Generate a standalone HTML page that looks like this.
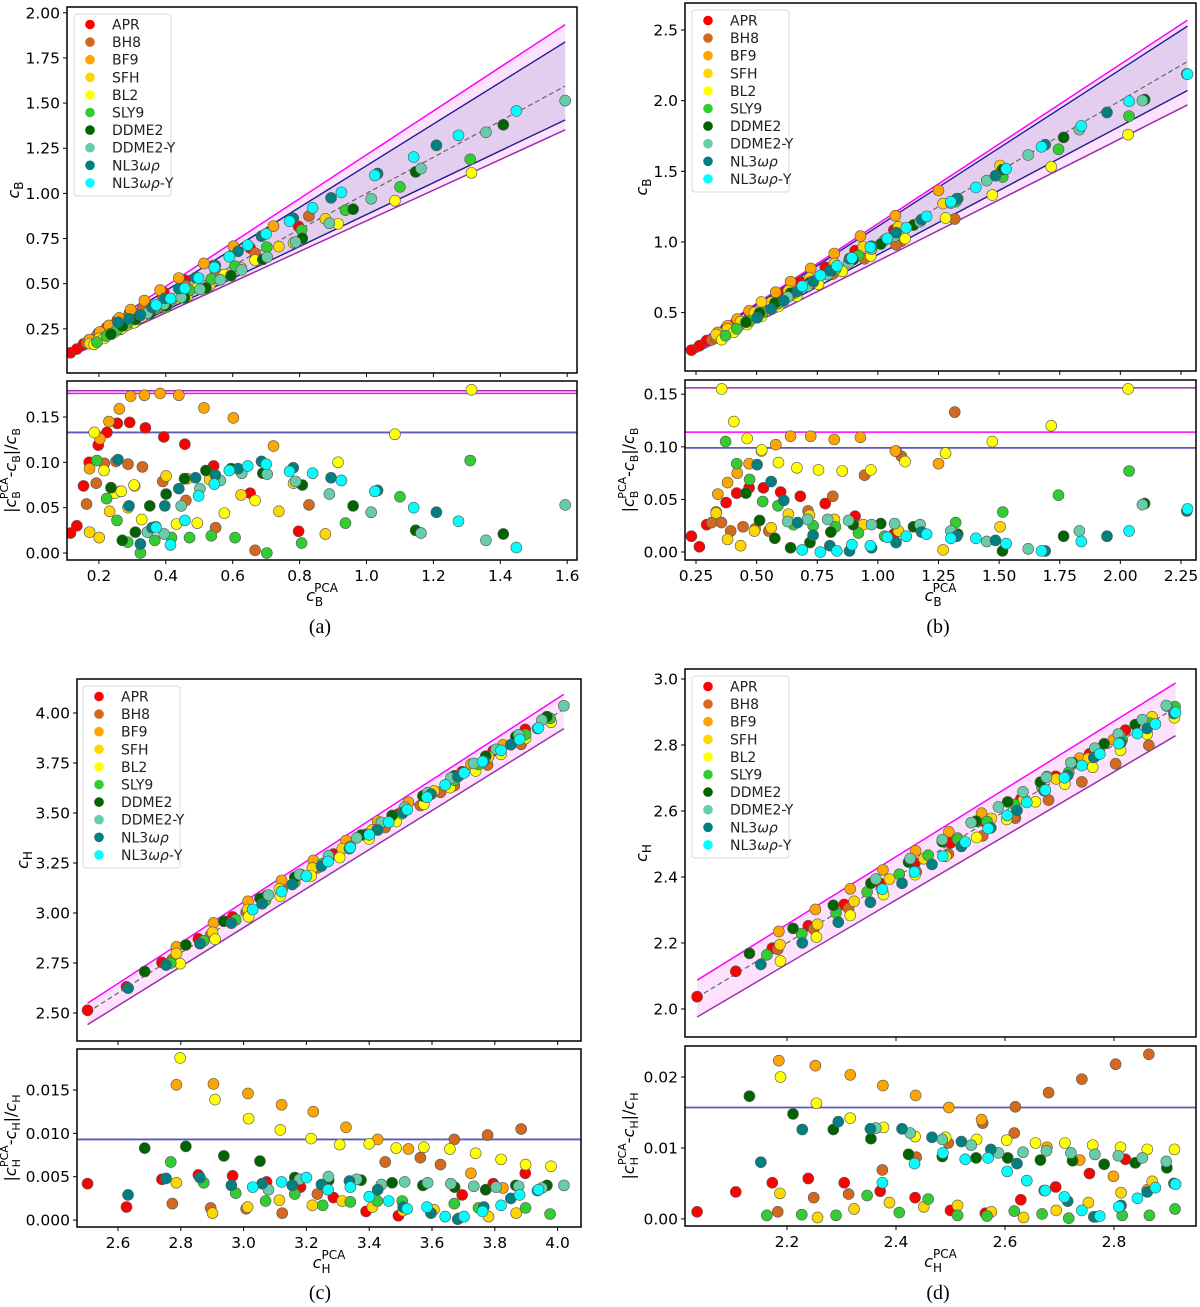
<!DOCTYPE html>
<html><head><meta charset="utf-8"><title>cB and cH PCA comparison</title>
<style>
html,body{margin:0;padding:0;background:#fff;}
svg{display:block;font-family:"DejaVu Sans","Liberation Sans",sans-serif;}
</style></head>
<body>
<svg id="fig" width="1200" height="1307" viewBox="0 0 1200 1307" xmlns="http://www.w3.org/2000/svg"></svg>
<script>
const seriesNames = ['APR','BH8','BF9','SFH','BL2','SLY9','DDME2','DDME2-Y','NL3ωρ','NL3ωρ-Y'];
const seriesColors = ['#ff0000','#d2691e','#ffa500','#ffd700','#ffff00','#32cd32','#006400','#66cdaa','#008080','#00ffff'];

// Panel (a): c_B^PCA values and relative errors
const aX = [
 [0.115,0.134,0.154,0.171,0.198,0.224,0.255,0.292,0.339,0.394,0.457,0.543,0.652,0.797],
 [0.163,0.192,0.216,0.251,0.287,0.33,0.391,0.46,0.549,0.667,0.828],
 [0.172,0.203,0.23,0.261,0.295,0.336,0.383,0.439,0.514,0.602,0.722],
 [0.172,0.201,0.232,0.264,0.287,0.307,0.37,0.401,0.464,0.531,0.625,0.738,0.877,0.782],
 [0.186,0.215,0.247,0.267,0.305,0.328,0.432,0.494,0.575,0.667,0.915,1.085,1.314],
 [0.194,0.223,0.254,0.286,0.324,0.367,0.417,0.471,0.536,0.607,0.702,0.806,0.937,1.1,1.31],
 [0.236,0.27,0.309,0.352,0.401,0.456,0.52,0.595,0.69,0.808,0.96,1.147,1.409],
 [0.345,0.395,0.446,0.502,0.563,0.627,0.703,0.788,0.889,1.014,1.163,1.357,1.594],
 [0.257,0.29,0.324,0.359,0.397,0.439,0.489,0.548,0.616,0.686,0.781,0.894,1.033,1.209],
 [0.371,0.414,0.457,0.498,0.545,0.59,0.645,0.7,0.77,0.839,0.925,1.025,1.141,1.275,1.448]
];
const aErr = [
 [0.022,0.030,0.074,0.10,0.119,0.133,0.143,0.144,0.138,0.128,0.12,0.096,0.066,0.024],
 [0.054,0.077,0.099,0.101,0.098,0.095,0.079,0.058,0.028,0.003,0.053],
 [0.093,0.126,0.145,0.159,0.173,0.174,0.176,0.174,0.16,0.149,0.118],
 [0.023,0.017,0.046,0.068,0.05,0.074,0.029,0.085,0.082,0.081,0.064,0.046,0.021,0.077],
 [0.133,0.091,0.066,0.068,0.075,0.037,0.032,0.033,0.044,0.058,0.10,0.131,0.18],
 [0.102,0.06,0.036,0.012,0.0,0.014,0.017,0.017,0.019,0.017,0.0,0.011,0.033,0.062,0.102],
 [0.072,0.014,0.023,0.052,0.065,0.082,0.091,0.093,0.088,0.075,0.052,0.025,0.021],
 [0.023,0.021,0.052,0.071,0.08,0.088,0.087,0.079,0.065,0.045,0.022,0.014,0.053],
 [0.103,0.052,0.01,0.028,0.052,0.071,0.083,0.086,0.093,0.101,0.094,0.083,0.069,0.045],
 [0.028,0.009,0.036,0.063,0.076,0.091,0.096,0.098,0.09,0.088,0.08,0.068,0.05,0.035,0.006]
];
const aSign = [-1,-1,-1,1,1,1,1,1,-1,-1];
const aLimits = [0.176,0.179,0.133]; // magenta, purple, blue

// Panel (b)
const bX = [
 [0.231,0.264,0.294,0.374,0.418,0.469,0.528,0.599,0.68,0.783,0.906,1.066],
 [0.315,0.355,0.333,0.393,0.444,0.494,0.55,0.712,0.814,0.945,1.097,1.317,1.075],
 [0.34,0.38,0.42,0.469,0.579,0.64,0.723,0.82,0.928,1.072,1.25],
 [0.333,0.38,0.434,0.491,0.56,0.631,0.718,0.821,0.94,1.085,1.269,1.504,0.52],
 [0.356,0.406,0.461,0.521,0.59,0.666,0.755,0.853,0.971,1.112,1.279,1.472,1.715,2.032],
 [0.372,0.418,0.471,0.525,0.588,0.652,0.733,0.825,0.92,1.028,1.321,1.515,1.745,2.036],
 [0.456,0.512,0.575,0.64,0.72,0.806,0.898,1.012,1.147,1.329,1.514,1.766,2.1],
 [0.628,0.71,0.793,0.879,0.974,1.069,1.174,1.301,1.449,1.62,1.831,2.091],
 [0.502,0.56,0.612,0.669,0.733,0.802,0.883,0.974,1.075,1.18,1.325,1.485,1.69,1.945,2.274],
 [0.688,0.763,0.831,0.893,0.969,1.039,1.117,1.201,1.301,1.404,1.529,1.675,1.839,2.036,2.277]
];
const bErr = [
 [0.015,0.005,0.026,0.047,0.056,0.061,0.061,0.057,0.053,0.046,0.034,0.017],
 [0.028,0.028,0.038,0.02,0.024,0.022,0.02,0.039,0.053,0.073,0.091,0.133,0.096],
 [0.055,0.066,0.075,0.084,0.102,0.11,0.11,0.107,0.109,0.096,0.084],
 [0.037,0.012,0.006,0.02,0.023,0.036,0.035,0.031,0.026,0.02,0.002,0.024,0.096],
 [0.155,0.124,0.108,0.097,0.085,0.08,0.078,0.077,0.078,0.086,0.094,0.105,0.12,0.155],
 [0.105,0.084,0.069,0.048,0.044,0.026,0.025,0.024,0.018,0.015,0.028,0.038,0.054,0.077],
 [0.056,0.03,0.013,0.004,0.009,0.019,0.026,0.027,0.024,0.017,0.001,0.015,0.046],
 [0.029,0.031,0.031,0.03,0.026,0.027,0.026,0.02,0.01,0.003,0.02,0.045],
 [0.083,0.067,0.049,0.028,0.016,0.006,0.001,0.004,0.009,0.019,0.015,0.011,0.001,0.015,0.039],
 [0.002,0.0,0.001,0.007,0.006,0.014,0.015,0.017,0.013,0.013,0.008,0.001,0.01,0.02,0.041]
];
const bSign = [-1,1,-1,-1,1,1,1,1,1,1];
const bLimits = [0.114,0.156,0.099];

// Panel (c): c_H
const cX = [
 [2.503,2.627,2.74,2.856,2.965,3.073,3.181,3.286,3.39,3.493,3.596,3.696,3.795,3.897],
 [2.773,2.895,3.008,3.123,3.235,3.451,3.563,3.671,3.777,3.884,3.627],
 [2.786,2.904,3.014,3.121,3.222,3.326,3.427,3.525,3.724,3.826],
 [2.786,2.901,3.013,3.114,3.219,3.314,3.41,3.508,3.606,3.686,3.78,3.868],
 [2.798,2.909,3.016,3.117,3.215,3.306,3.4,3.486,3.574,3.657,3.739,3.82,3.898,3.979],
 [2.768,2.873,2.975,3.07,3.163,3.252,3.34,3.426,3.505,3.671,3.748,3.898,3.976],
 [2.685,2.816,2.937,3.052,3.163,3.271,3.374,3.473,3.571,3.672,3.771,3.867,3.966],
 [3.079,3.178,3.27,3.36,3.439,3.513,3.586,3.66,3.733,3.804,3.876,3.95,4.02],
 [2.632,2.753,2.861,2.961,3.059,3.155,3.248,3.337,3.427,3.508,3.597,3.682,3.765,3.851,3.936],
 [3.029,3.121,3.2,3.269,3.34,3.4,3.462,3.521,3.584,3.642,3.702,3.761,3.82,3.879,3.939]
];
const cErr = [
 [0.0042,0.0015,0.0047,0.0052,0.0051,0.0044,0.0038,0.0026,0.001,0.0005,0.0009,0.0029,0.0042,0.0054],
 [0.0019,0.0014,0.0013,0.0008,0.003,0.0067,0.0072,0.0093,0.0098,0.0105,0.0064],
 [0.0156,0.0157,0.0146,0.0133,0.0125,0.0107,0.0093,0.0082,0.0054,0.0037],
 [0.0043,0.0008,0.0015,0.0023,0.0017,0.0022,0.0015,0.0011,0.0012,0.0002,0.0004,0.0008],
 [0.0187,0.0139,0.0117,0.0104,0.0094,0.0087,0.0088,0.0083,0.0084,0.0082,0.0077,0.007,0.0064,0.0062],
 [0.0067,0.0043,0.0031,0.0022,0.003,0.0017,0.0021,0.0022,0.0022,0.0019,0.0014,0.0014,0.0007],
 [0.0083,0.0085,0.0074,0.0068,0.0049,0.0046,0.0046,0.0043,0.004,0.0038,0.0035,0.004,0.004],
 [0.0035,0.0047,0.005,0.0047,0.0041,0.0044,0.0043,0.0042,0.0039,0.0038,0.0039,0.0037,0.004],
 [0.0029,0.0048,0.0049,0.004,0.0042,0.004,0.0041,0.0045,0.0035,0.0015,0.0008,0.0001,0.0015,0.0025,0.0034],
 [0.0038,0.0044,0.0049,0.0035,0.0038,0.0027,0.0022,0.0013,0.0015,0.0004,0.0004,0.001,0.0017,0.0029,0.0035]
];
const cSign = [-1,1,-1,-1,1,1,-1,-1,1,1];
const cLimits = [0.018,0.025,0.0093];

// Panel (d)
const dX = [
 [2.035,2.106,2.173,2.239,2.305,2.371,2.435,2.5,2.564,2.629,2.693,2.755,2.821],
 [2.183,2.249,2.313,2.375,2.437,2.496,2.559,2.619,2.68,2.741,2.803,2.864,2.617],
 [2.185,2.252,2.316,2.376,2.436,2.497,2.557,2.677,2.737,2.799,2.861],
 [2.187,2.256,2.323,2.388,2.451,2.513,2.575,2.634,2.694,2.753,2.813,2.87],
 [2.188,2.254,2.316,2.377,2.435,2.491,2.548,2.603,2.656,2.71,2.761,2.812,2.861,2.911],
 [2.163,2.227,2.29,2.347,2.406,2.459,2.513,2.567,2.617,2.668,2.717,2.767,2.815,2.865,2.912],
 [2.131,2.211,2.285,2.354,2.423,2.485,2.547,2.605,2.665,2.724,2.782,2.839,2.897],
 [2.363,2.426,2.485,2.538,2.588,2.633,2.676,2.721,2.765,2.808,2.852,2.896],
 [2.152,2.228,2.294,2.353,2.411,2.466,2.52,2.574,2.622,2.672,2.715,2.763,2.813,2.861,2.91],
 [2.375,2.434,2.486,2.527,2.569,2.604,2.64,2.674,2.709,2.741,2.774,2.809,2.843,2.876,2.913]
];
const dErr = [
 [0.001,0.0038,0.0051,0.0057,0.0051,0.0039,0.003,0.0012,0.0008,0.0027,0.0045,0.0064,0.0084],
 [0.001,0.003,0.0035,0.0069,0.0087,0.0107,0.0135,0.0158,0.0178,0.0197,0.0218,0.0232,0.0121],
 [0.0223,0.0216,0.0203,0.0188,0.0174,0.0157,0.014,0.0101,0.0083,0.006,0.0041],
 [0.0036,0.0002,0.0014,0.0023,0.0017,0.0019,0.001,0.0002,0.0012,0.0023,0.0037,0.0053],
 [0.02,0.0163,0.0142,0.0129,0.0116,0.0115,0.0112,0.0111,0.0107,0.0107,0.0104,0.0101,0.0098,0.0098],
 [0.0005,0.0006,0.0005,0.0033,0.0009,0.0028,0.0005,0.0004,0.0011,0.0007,0.0001,0.0003,0.0005,0.0005,0.0014],
 [0.0173,0.0148,0.0126,0.0113,0.0091,0.0088,0.0086,0.0086,0.0083,0.0082,0.0077,0.0079,0.0072],
 [0.0128,0.0121,0.0112,0.0104,0.0093,0.0094,0.0096,0.0093,0.0091,0.0089,0.0086,0.0081],
 [0.008,0.0126,0.0137,0.0127,0.0127,0.0115,0.0109,0.0098,0.0078,0.004,0.0025,0.0003,0.0019,0.0038,0.005],
 [0.0051,0.0078,0.0093,0.0084,0.0086,0.0067,0.0054,0.004,0.0031,0.0012,0.0004,0.0017,0.0029,0.0044,0.0049]
];
const dSign = [-1,1,-1,-1,1,-1,-1,-1,1,1];
const dLimits = [0.025,0.03,0.0157];

// Tick labels
const aTopYTicks = ['0.25','0.50','0.75','1.00','1.25','1.50','1.75','2.00'];
const aXTicks = ['0.2','0.4','0.6','0.8','1.0','1.2','1.4','1.6'];
const aBotYTicks = ['0.00','0.05','0.10','0.15'];
const bTopYTicks = ['0.5','1.0','1.5','2.0','2.5'];
const bXTicks = ['0.25','0.50','0.75','1.00','1.25','1.50','1.75','2.00','2.25'];
const bBotYTicks = ['0.00','0.05','0.10','0.15'];
const cTopYTicks = ['2.50','2.75','3.00','3.25','3.50','3.75','4.00'];
const cXTicks = ['2.6','2.8','3.0','3.2','3.4','3.6','3.8','4.0'];
const cBotYTicks = ['0.000','0.005','0.010','0.015'];
const dTopYTicks = ['2.0','2.2','2.4','2.6','2.8','3.0'];
const dXTicks = ['2.2','2.4','2.6','2.8'];
const dBotYTicks = ['0.00','0.01','0.02'];

const NS = 'http://www.w3.org/2000/svg';
const svg = document.getElementById('fig');
function mk(tag, attrs, parent){
  const e = document.createElementNS(NS, tag);
  for (const k in attrs) e.setAttribute(k, attrs[k]);
  (parent || svg).appendChild(e);
  return e;
}
function scale(d0,d1,p0,p1){ return v => p0 + (v-d0)/(d1-d0)*(p1-p0); }
const TICKFS = 15.5;

function drawPanel(key, cfg){
  const g = mk('g', {});
  
  
  const xs = scale(cfg.xlim[0], cfg.xlim[1], cfg.L, cfg.R);
  const yT = scale(cfg.ylimT[0], cfg.ylimT[1], cfg.tB, cfg.tT);
  const yB = scale(cfg.ylimB[0], cfg.ylimB[1], cfg.bB, cfg.bT);
  const cidT = 'clipT'+key, cidB = 'clipB'+key;
  const defs = mk('defs', {}, g);
  const c1 = mk('clipPath', {id:cidT}, defs); mk('rect', {x:cfg.L, y:cfg.tT, width:cfg.R-cfg.L, height:cfg.tB-cfg.tT}, c1);
  const c2 = mk('clipPath', {id:cidB}, defs); mk('rect', {x:cfg.L, y:cfg.bT, width:cfg.R-cfg.L, height:cfg.bB-cfg.bT}, c2);

  const top = mk('g', {'clip-path':'url(#'+cidT+')'}, g);
  
  
  let xmin = Infinity, xmax = -Infinity;
  cfg.X.forEach(a => a.forEach(v => { xmin = Math.min(xmin, v); xmax = Math.max(xmax, v); }));
  const [dm, dp, db] = cfg.lim;
  const up = x => x/(1-dm), lo = x => x/(1+dp);
  const band = mk('polygon', {points:xs(xmin)+','+yT(up(xmin))+' '+xs(xmax)+','+yT(up(xmax))+' '+xs(xmax)+','+yT(lo(xmax))+' '+xs(xmin)+','+yT(lo(xmin)), fill:'#fde2fd', stroke:'none'}, top);
  
  
  if (cfg.blueTop){
    const bu = x => x/(1-db), bl = x => x/(1+db);
    const inner = mk('polygon', {points:xs(xmin)+','+yT(bu(xmin))+' '+xs(xmax)+','+yT(bu(xmax))+' '+xs(xmax)+','+yT(bl(xmax))+' '+xs(xmin)+','+yT(bl(xmin)), fill:'#e4cef0', stroke:'none'}, top);
    
    
  }
  const l1 = mk('line', {x1:xs(xmin), y1:yT(up(xmin)), x2:xs(xmax), y2:yT(up(xmax)), stroke:'#ff00ff', 'stroke-width':1.5}, top);
  
  
  const l2 = mk('line', {x1:xs(xmin), y1:yT(lo(xmin)), x2:xs(xmax), y2:yT(lo(xmax)), stroke:'#9b30a8', 'stroke-width':1.5}, top);
  
  
  if (cfg.blueTop){
    [x => x/(1-db), x => x/(1+db)].forEach((f,i) => {
      const bl = mk('line', {x1:xs(xmin), y1:yT(f(xmin)), x2:xs(xmax), y2:yT(f(xmax)), stroke:'#1f1f8f', 'stroke-width':1.4}, top);
      
      
    });
  }
  const diag = mk('line', {x1:xs(xmin), y1:yT(xmin), x2:xs(xmax), y2:yT(xmax), stroke:'#666', 'stroke-width':1.2, 'stroke-dasharray':'5,3'}, top);
  
  

  cfg.X.forEach((arr, s) => {
    arr.forEach((x, i) => {
      const e = cfg.E[s][i] * cfg.S[s];
      const y = x/(1+e);
      const c = mk('circle', {cx:xs(x), cy:yT(y), r:5.5, fill:seriesColors[s], stroke:'#5a5a5a', 'stroke-width':0.6}, top);
      
      
    });
  });

  const bot = mk('g', {'clip-path':'url(#'+cidB+')'}, g);
  
  
  if (cfg.limLinesBottom){
    const m = mk('line', {x1:cfg.L, y1:yB(dm), x2:cfg.R, y2:yB(dm), stroke:'#ff00ff', 'stroke-width':1.5}, bot);
    
    
    const p = mk('line', {x1:cfg.L, y1:yB(dp), x2:cfg.R, y2:yB(dp), stroke:'#9b30a8', 'stroke-width':1.5}, bot);
    
    
  }
  const bh = mk('line', {x1:cfg.L, y1:yB(db), x2:cfg.R, y2:yB(db), stroke:'#5a5ab8', 'stroke-width':1.8}, bot);
  
  
  cfg.X.forEach((arr, s) => {
    arr.forEach((x, i) => {
      const c = mk('circle', {cx:xs(x), cy:yB(cfg.E[s][i]), r:5.5, fill:seriesColors[s], stroke:'#5a5a5a', 'stroke-width':0.6}, bot);
      
      
    });
  });

  [[cfg.tT,cfg.tB],[cfg.bT,cfg.bB]].forEach(([t,b],i) => {
    const r = mk('rect', {x:cfg.L, y:t, width:cfg.R-cfg.L, height:b-t, fill:'none', stroke:'#000', 'stroke-width':1.5}, g);
    
    
  });

  cfg.xt.forEach(lab => {
    const v = parseFloat(lab), px = xs(v);
    mk('line', {x1:px, y1:cfg.tB, x2:px, y2:cfg.tB+4, stroke:'#000', 'stroke-width':1}, g);
    mk('line', {x1:px, y1:cfg.bB, x2:px, y2:cfg.bB+4, stroke:'#000', 'stroke-width':1}, g);
    const t = mk('text', {x:px, y:cfg.bB+21, 'font-size':TICKFS, 'text-anchor':'middle', fill:'#000'}, g);
    t.textContent = lab;
    
    
  });
  cfg.ytT.forEach(lab => {
    const py = yT(parseFloat(lab));
    mk('line', {x1:cfg.L-4, y1:py, x2:cfg.L, y2:py, stroke:'#000', 'stroke-width':1}, g);
    const t = mk('text', {x:cfg.L-7, y:py+5.5, 'font-size':TICKFS, 'text-anchor':'end', fill:'#000'}, g);
    t.textContent = lab;
    
    
  });
  cfg.ytB.forEach(lab => {
    const py = yB(parseFloat(lab));
    mk('line', {x1:cfg.L-4, y1:py, x2:cfg.L, y2:py, stroke:'#000', 'stroke-width':1}, g);
    const t = mk('text', {x:cfg.L-7, y:py+5.5, 'font-size':TICKFS, 'text-anchor':'end', fill:'#000'}, g);
    t.textContent = lab;
    
    
  });

  const sub = cfg.sub;
  const xl = mk('text', {x:(cfg.L+cfg.R)/2, y:cfg.bB+41, 'font-size':16, 'text-anchor':'middle', fill:'#000'}, g);
  
  
  xl.innerHTML = '<tspan font-style="italic">c</tspan><tspan font-size="12" dy="5">'+sub+'</tspan><tspan font-size="12" dx="-9" dy="-14">PCA</tspan>';
  const yl = mk('text', {x:cfg.ylx, y:(cfg.tT+cfg.tB)/2, 'font-size':16, 'text-anchor':'middle', fill:'#000', transform:'rotate(-90 '+cfg.ylx+' '+((cfg.tT+cfg.tB)/2)+')'}, g);
  
  
  yl.innerHTML = '<tspan font-style="italic">c</tspan><tspan font-size="12" dy="4">'+sub+'</tspan>';
  const yb = (cfg.bT+cfg.bB)/2;
  const yl2 = mk('text', {x:cfg.ylx2, y:yb, 'font-size':16, 'text-anchor':'middle', fill:'#000', transform:'rotate(-90 '+cfg.ylx2+' '+yb+')'}, g);
  
  
  yl2.innerHTML = '|<tspan font-style="italic">c</tspan><tspan font-size="11" dy="4">'+sub+'</tspan><tspan font-size="11" dx="-8" dy="-12">PCA</tspan><tspan dy="8">-</tspan><tspan font-style="italic">c</tspan><tspan font-size="11" dy="4">'+sub+'</tspan><tspan dy="-4">|/</tspan><tspan font-style="italic">c</tspan><tspan font-size="11" dy="4">'+sub+'</tspan>';

  const lg = mk('g', {}, g);
  
  
  mk('rect', {x:cfg.lx, y:cfg.ly, width:97, height:182, rx:3, fill:'#fff', 'fill-opacity':0.85, stroke:'#d8d8d8', 'stroke-width':1}, lg);
  seriesNames.forEach((n, i) => {
    const yy = cfg.ly + 10.5 + i*17.6;
    const ent = mk('g', {}, lg);
    
    
    mk('circle', {cx:cfg.lx+16, cy:yy, r:4.8, fill:seriesColors[i]}, ent);
    const t = mk('text', {x:cfg.lx+38, y:yy+5, 'font-size':14, fill:'#222'}, ent);
    if (n.indexOf('ωρ') >= 0){
      t.innerHTML = 'NL3<tspan font-style="italic">ωρ</tspan>' + (n.endsWith('-Y') ? '-Y' : '');
    } else t.textContent = n;
  });

  const pl = mk('text', {x:cfg.plx, y:cfg.ply, 'font-size':20, 'text-anchor':'middle', fill:'#000', 'font-family':'"Liberation Serif", serif'}, g);
  pl.textContent = '('+key+')';
  
  
}

drawPanel('a', {L:67,R:577,tT:7,tB:373,bT:381,bB:560, xlim:[0.1046,1.6293], ylimT:[0.0055,2.032], ylimB:[-0.0077,0.1897],
  X:aX, E:aErr, S:aSign, lim:aLimits, blueTop:true, limLinesBottom:true, xt:aXTicks, ytT:aTopYTicks, ytB:aBotYTicks,
  sub:'B', ylx:19, ylx2:16, lx:74, ly:14, plx:320, ply:633});
drawPanel('b', {L:685,R:1196,tT:3,tB:371,bT:380,bB:560, xlim:[0.2046,2.312], ylimT:[0.0867,2.691], ylimB:[-0.0076,0.1635],
  X:bX, E:bErr, S:bSign, lim:bLimits, blueTop:true, limLinesBottom:true, xt:bXTicks, ytT:bTopYTicks, ytB:bBotYTicks,
  sub:'B', ylx:647, ylx2:634, lx:692, ly:10, plx:938, ply:633});
drawPanel('c', {L:77,R:581,tT:679,tB:1041,bT:1049,bB:1227, xlim:[2.4694,4.0745], ylimT:[2.36,4.17], ylimB:[-0.0008,0.01973],
  X:cX, E:cErr, S:cSign, lim:cLimits, blueTop:false, limLinesBottom:false, xt:cXTicks, ytT:cTopYTicks, ytB:cBotYTicks,
  sub:'H', ylx:28, ylx2:16, lx:83, ly:686, plx:320, ply:1299});
drawPanel('d', {L:685,R:1196,tT:669,tB:1037,bT:1046,bB:1226, xlim:[2.0128,2.9505], ylimT:[1.915,3.0303], ylimB:[-0.001,0.02437],
  X:dX, E:dErr, S:dSign, lim:dLimits, blueTop:false, limLinesBottom:false, xt:dXTicks, ytT:dTopYTicks, ytB:dBotYTicks,
  sub:'H', ylx:647, ylx2:634, lx:692, ly:676, plx:938, ply:1299});
</script>
</body></html>
